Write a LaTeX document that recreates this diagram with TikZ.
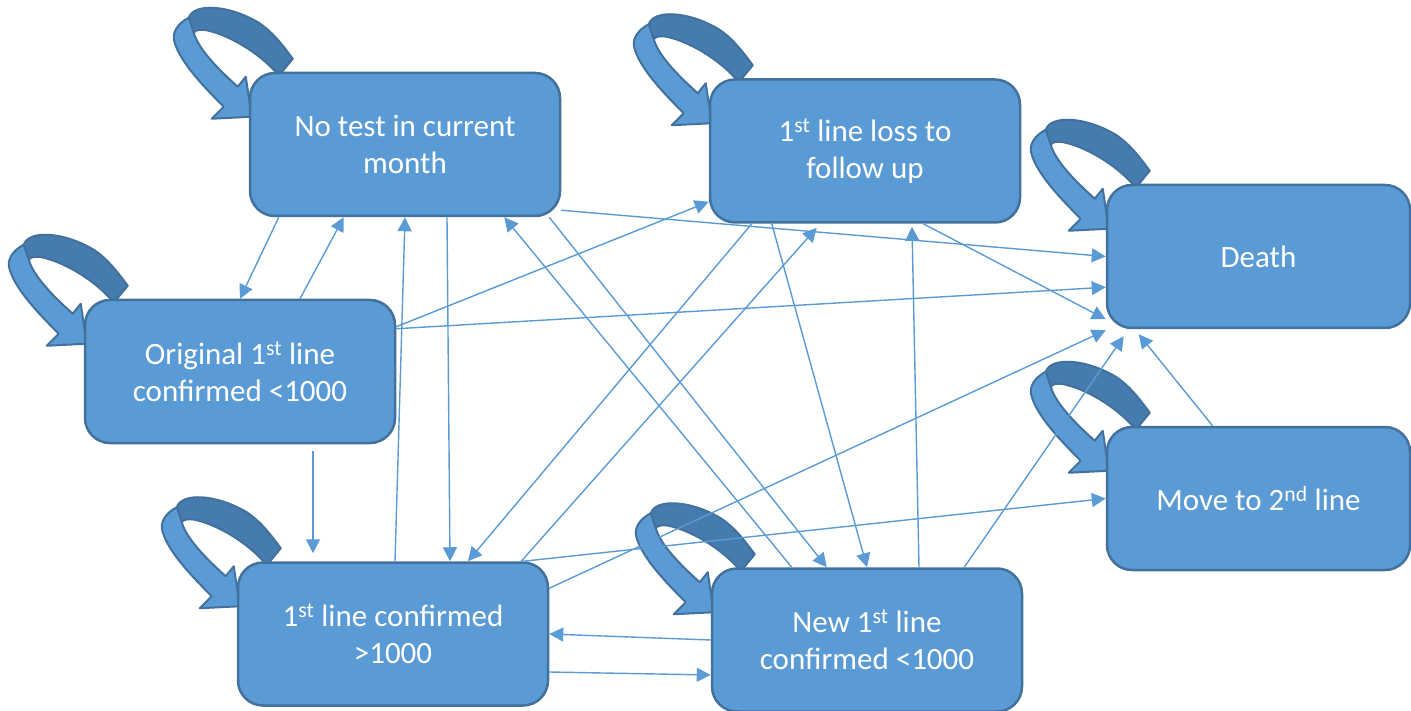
\documentclass[tikz,border=0pt]{standalone}
\usepackage{fontspec}
\setmainfont{Carlito}
\usetikzlibrary{arrows.meta}
\pgfdeclarelayer{loops}
\pgfsetlayers{loops,main}
\definecolor{boxfill}{HTML}{5B9BD5}
\definecolor{boxline}{HTML}{41719C}
\definecolor{loopback}{HTML}{467BAD}
% circular arrow at the top left corner of a state
\newcommand{\selfloop}[1]{%
  \begin{scope}[shift={(#1)},yshift=-3pt]
    \filldraw[fill=loopback,draw=boxline,line width=2pt,line join=round]
      (-60,-57) .. controls (-55,-72) and (-20,-70) .. (10,-52)
      .. controls (25,-42) and (35,-28) .. (44,-16) -- (30,1)
      .. controls (15,-18) and (-15,-38) .. (-40,-44)
      .. controls (-48,-46) and (-53,-45) .. (-55,-42) -- cycle;
    \filldraw[fill=boxfill,draw=boxline,line width=2pt,line join=round]
      (-60,-57) .. controls (-70,-52) and (-78,-42) .. (-74,-32)
      .. controls (-68,-12) and (-45,12) .. (-25,32) -- (-37,44) -- (3,42)
      -- (-3,2) -- (-11,12) .. controls (-30,-5) and (-50,-25) .. (-55,-42) -- cycle;
  \end{scope}}

\begin{document}
\begin{tikzpicture}[x=1pt,y=-1pt,
    stat/.style={draw=boxline,fill=boxfill,line width=2.5pt,rounded corners=25pt,
      minimum width=310pt,minimum height=143pt,inner sep=0pt,align=center,
      text=white,font=\fontsize{31}{37}\selectfont},
    flow/.style={draw=boxfill,line width=1.4pt,-{Triangle[length=14pt,width=14pt]}}]
   \useasboundingbox (0,0) rectangle (1411,711);
   % states
   \path (405,144.5) node[stat] (notest) {No test in current\\month};
   \path (865,151) node[stat] (ltfu) {1\textsuperscript{st} line loss to\\follow up};
   \path (1258.5,256.5) node[stat,minimum width=303pt] (death) {Death};
   \path (240,371.5) node[stat] (orig) {Original 1\textsuperscript{st} line\\confirmed <1000};
   \path (1258.5,498.5) node[stat,minimum width=303pt] (move) {Move to 2\textsuperscript{nd} line};
   \path (393,634) node[stat] (high) {1\textsuperscript{st} line confirmed\\>1000};
   \path (867,640) node[stat] (newlow) {New 1\textsuperscript{st} line\\confirmed <1000};
   % loops, behind the boxes
   \begin{pgfonlayer}{loops}
   \selfloop{notest.north west}
   \selfloop{ltfu.north west}
   \selfloop{death.north west}
   \selfloop{orig.north west}
   \selfloop{move.north west}
   \selfloop{high.north west}
   \selfloop{newlow.north west}
   \end{pgfonlayer}
   % transitions
   \draw[flow] ([xshift=30pt]notest.south west) -- (orig.north);
   \draw[flow] ([xshift=60pt]orig.north) -- ([xshift=95pt]notest.south west);
   \draw[flow] ([xshift=2pt]high.north) -- (notest.south);
   \draw[flow] ([xshift=42pt]notest.south) -- ([xshift=57pt]high.north);
   \draw[flow] ([xshift=81pt]newlow.north west) -- ([xshift=-57pt]notest.south east);
   \draw[flow] ([xshift=-12pt]notest.south east) -- ([xshift=116pt]newlow.north west);
   \draw[flow] ([yshift=7pt]notest.south east) -- (death.west);
   \draw[flow] ([yshift=-28pt]orig.north east) -- ([yshift=22pt]ltfu.south west);
   \draw[flow] ([yshift=-30pt]orig.north east) -- ([yshift=42pt]death.south west);
   \draw[flow] ([xshift=73pt,yshift=-7pt]orig.south) -- ([xshift=-80pt,yshift=8pt]high.north);
   \draw[flow] ([xshift=43pt]ltfu.south west) -- ([xshift=75pt]high.north);
   \draw[flow] ([xshift=-28pt]high.north east) -- ([xshift=108pt,yshift=-4pt]ltfu.south west);
   \draw[flow] ([xshift=63pt]ltfu.south west) -- (newlow.north);
   \draw[flow] ([xshift=52pt]newlow.north) -- ([xshift=47pt,yshift=-3pt]ltfu.south);
   \draw[flow] ([xshift=-98pt]ltfu.south east) -- ([yshift=10pt]death.south west);
   \draw[flow] ([yshift=-27pt]high.north east) -- ([yshift=-1pt]death.south west);
   \draw[flow] ([xshift=-59pt]newlow.north east) -- ([xshift=18pt,yshift=-7pt]death.south west);
   \draw[flow] ([xshift=-46pt]move.north) -- ([xshift=33pt,yshift=-5pt]death.south west);
   \draw[flow] ([xshift=-26pt]high.north east) -- (move.west);
   \draw[flow] (newlow.west) -- (high.east);
   \draw[flow] ([yshift=-38pt]high.east) -- ([yshift=-35pt]newlow.west);
\end{tikzpicture}
\end{document}
